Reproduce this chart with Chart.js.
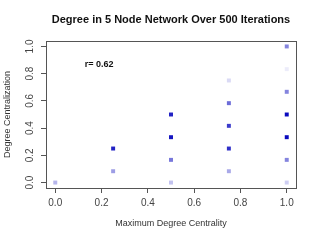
<!DOCTYPE html>
<html><head><meta charset="utf-8">
<script src="https://cdn.jsdelivr.net/npm/chart.js@4/dist/chart.umd.min.js"></script>
<style>html,body{margin:0;padding:0;background:#fff}#wrap{width:320px;height:240px}</style>
</head><body><div id="wrap"><canvas id="c" width="320" height="240"></canvas></div>
<script>
const xValues = [0, 0.25, 0.25, 0.5, 0.5, 0.5, 0.5, 0.75, 0.75, 0.75, 0.75, 0.75, 1, 1, 1, 1, 1, 1, 1];
const yValues = [0, 0.25, 0.0833, 0.5, 0.3333, 0.1667, 0, 0.75, 0.5833, 0.4167, 0.25, 0.0833, 1, 0.8333, 0.6667, 0.5, 0.3333, 0.1667, 0];
const intensity = [0.3, 0.9, 0.4, 0.9, 0.95, 0.55, 0.25, 0.15, 0.6, 0.8, 0.85, 0.35, 0.5, 0.08, 0.5, 1.0, 1.0, 0.5, 0.2];
const tickValues = [0, 0.2, 0.4, 0.6, 0.8, 1.0];
const titleText = 'Degree in 5 Node Network Over 500 Iterations';
const xTitle = 'Maximum Degree Centrality';
const yTitle = 'Degree Centralization';
const rLabel = 'r= 0.62';

const points = xValues.map((x, i) => ({x, y: yValues[i]}));
const colors = intensity.map(a => `rgba(10,10,190,${a})`);
const FONT = 'Liberation Sans, Arial, sans-serif';
const AX = '#555';

const boxPlugin = {
  id: 'box',
  afterDraw(chart) {
    const {ctx, chartArea: a, scales} = chart;
    ctx.save();
    ctx.strokeStyle = AX; ctx.lineWidth = 1;
    ctx.strokeRect(Math.round(a.left) + 0.5, Math.round(a.top) + 0.5, Math.round(a.right - a.left), Math.round(a.bottom - a.top));
    ctx.fillStyle = '#111';
    ctx.textAlign = 'center'; ctx.textBaseline = 'middle';
    ctx.font = 'bold 11px ' + FONT;
    ctx.fillText(titleText, (a.left + a.right) / 2, 20);
    ctx.font = 'bold 9px ' + FONT;
    ctx.fillText(rLabel, scales.x.getPixelForValue(0.19), scales.y.getPixelForValue(0.87));
    ctx.restore();
  }
};

function fixTicks(scale) { scale.ticks = tickValues.map(v => ({value: v})); }

new Chart(document.getElementById('c'), {
  type: 'scatter',
  data: {datasets: [{data: points, backgroundColor: colors, borderWidth: 0, pointStyle: 'rect', pointRadius: 2.8, pointHoverRadius: 2.8}]},
  options: {
    responsive: false, animation: false, devicePixelRatio: 1,
    layout: {padding: {left: 0, right: 24, top: 41, bottom: 0}},
    plugins: {
      legend: {display: false}, tooltip: {enabled: false}, title: {display: false}
    },
    scales: {
      x: {
        type: 'linear', min: -0.04, max: 1.04,
        afterBuildTicks: fixTicks,
        afterFit(s) { s.height = 52; s.paddingLeft = 0; s.paddingRight = 0; },
        grid: {drawOnChartArea: false, drawTicks: true, tickLength: 5, color: AX},
        border: {display: true, color: AX},
        ticks: {color: '#444', font: {family: FONT, size: 10}, padding: 4, maxRotation: 0, minRotation: 0, callback: v => v.toFixed(1)},
        title: {display: true, text: xTitle, color: '#333', font: {family: FONT, size: 9}, padding: {top: 0, bottom: 11}}
      },
      y: {
        type: 'linear', min: -0.04, max: 1.04,
        afterBuildTicks: fixTicks,
        afterFit(s) { s.width = 46; s.paddingTop = 0; s.paddingBottom = 0; },
        grid: {drawOnChartArea: false, drawTicks: true, tickLength: 5, color: AX},
        border: {display: true, color: AX},
        ticks: {color: '#444', font: {family: FONT, size: 10}, padding: 4, minRotation: 90, maxRotation: 90, crossAlign: 'center', callback: v => v.toFixed(1)},
        title: {display: true, text: yTitle, color: '#333', font: {family: FONT, size: 9}, padding: {top: 2, bottom: 0}}
      }
    }
  },
  plugins: [boxPlugin]
});
</script></body></html>
